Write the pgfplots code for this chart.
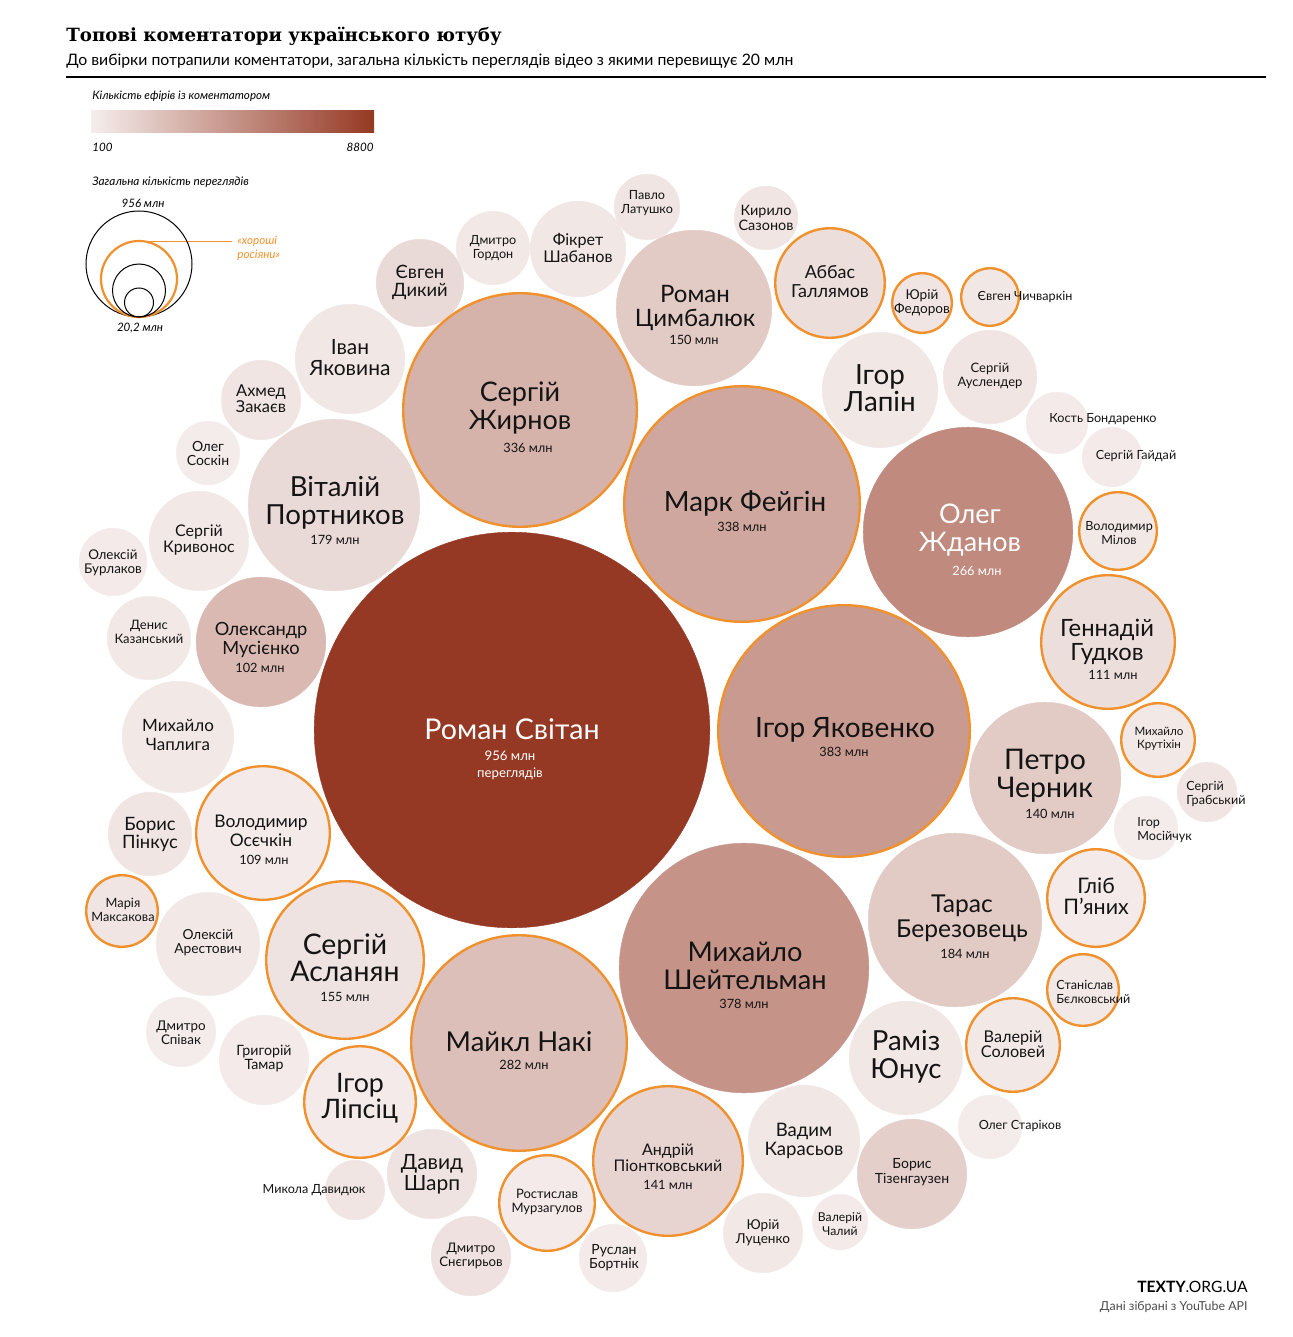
\documentclass[border=0pt]{standalone}
\usepackage{fontspec}
\setmainfont{Lato}
\newfontfamily\titlefont{DejaVu Serif}
\usepackage{pgfplots}
\usepackage{pgfplotstable}
\pgfplotsset{compat=1.18}
\definecolor{orng}{RGB}{240,145,45}
\definecolor{txt}{RGB}{20,20,20}
\definecolor{cA}{RGB}{245,238,237}
\definecolor{cB}{RGB}{149,57,36}
\newcommand\LabB[5]{\node[align=center,inner sep=0pt,text=txt,font=\fontsize{#3}{#4}\selectfont] at (axis cs:#1,#2) {#5};}
\newcommand\LabW[5]{\node[align=center,inner sep=0pt,text=white,font=\fontsize{#3}{#4}\selectfont] at (axis cs:#1,#2) {#5};}
\newcommand\LabL[5]{\node[align=left,anchor=west,inner sep=0pt,text=txt,font=\fontsize{#3}{#4}\selectfont] at (axis cs:#1,#2) {#5};}
\newcommand\LabS[3]{\node[align=center,inner sep=0pt,text=txt,font=\fontsize{6.4}{7}\selectfont] at (axis cs:#1,#2) {#3};}

\newcommand\drawlabels{%
\LabW{512}{729}{14.3}{15}{Роман Світан}
\node[align=center,inner sep=0pt,text=white,font=\fontsize{6.6}{8.5}\selectfont] at (axis cs:510,765) {956 млн\\переглядів};
\LabB{845}{730}{14}{14}{Ігор Яковенко}\LabS{844}{752}{383 млн}
\LabB{745}{966}{13.6}{14}{Михайло\\Шейтельман}\LabS{744}{1004}{378 млн}
\LabB{745}{503}{13.9}{14}{Марк Фейгін}\LabS{742}{527}{338 млн}
\LabB{520}{408}{13.5}{13.6}{Сергій\\Жирнов}\LabS{528}{448}{336 млн}
\LabB{519}{1042}{13.7}{14}{Майкл Накі}\LabS{524}{1065}{282 млн}
\LabW{970}{530}{13.5}{13.6}{Олег\\Жданов}
\node[inner sep=0pt,text=white,font=\fontsize{6.4}{7}\selectfont] at (axis cs:977,571) {266 млн};
\LabB{962}{918}{12.3}{12.5}{Тарас\\Березовець}\LabS{965}{954}{184 млн}
\LabB{335}{503}{13.8}{13.8}{Віталій\\Портников}\LabS{335}{540}{179 млн}
\LabB{345}{958}{14.2}{13.6}{Сергій\\Асланян}\LabS{345}{997}{155 млн}
\LabB{695}{308}{12}{11.8}{Роман\\Цимбалюк}\LabS{694}{340}{150 млн}
\LabB{668}{1158}{8}{8}{Андрій\\Піонтковський}\LabS{668}{1185}{141 млн}
\LabB{1045}{776}{14.2}{14}{Петро\\Черник}\LabS{1050}{814}{140 млн}
\LabB{1107}{642}{11.9}{12}{Геннадій\\Гудков}\LabS{1113}{675}{111 млн}
\LabB{261}{831}{8.7}{9.5}{Володимир\\Осєчкін}\LabS{264}{860}{109 млн}
\LabB{261}{640}{9.1}{9.5}{Олександр\\Мусієнко}\LabS{260}{668}{102 млн}
\LabB{880}{388}{13.9}{13.8}{Ігор\\Лапін}
\LabB{906}{1057}{13.8}{14}{Раміз\\Юнус}
\LabB{360}{1098}{13.4}{13.2}{Ігор\\Ліпсіц}
\LabB{912}{1172}{7}{7.2}{Борис\\Тізенгаузен}
\LabB{350}{358}{10.5}{10.5}{Іван\\Яковина}
\LabB{178}{735}{8.5}{9.2}{Михайло\\Чаплига}
\LabB{804}{1141}{9.3}{9.2}{Вадим\\Карасьов}
\LabB{830}{282}{9}{9.5}{Аббас\\Галлямов}
\LabB{208}{943}{6.9}{7}{Олексій\\Арестович}
\LabB{578}{248}{8.1}{8.2}{Фікрет\\Шабанов}
\LabB{1096}{896}{10.7}{10.5}{Гліб\\П’яних}
\LabB{199}{540}{8}{8.3}{Сергій\\Кривонос}
\LabB{547}{1202}{6.5}{7}{Ростислав\\Мурзагулов}
\LabB{1013}{1044}{8.1}{7.8}{Валерій\\Соловей}
\LabB{990}{376}{6.5}{7}{Сергій\\Ауслендер}
\LabB{432}{1174}{10.5}{10.5}{Давид\\Шарп}
\LabB{471}{1256}{6.6}{7}{Дмитро\\Снєгирьов}
\LabB{763}{1233}{6.8}{7}{Юрій\\Луценко}
\LabB{150}{834}{9.2}{9}{Борис\\Пінкус}
\LabB{149}{632}{6.5}{7}{Денис\\Казанський}
\LabB{261}{399}{8.2}{8}{Ахмед\\Закаєв}
\LabB{264}{1059}{7.1}{7}{Григорій\\Тамар}
\LabB{420}{282}{9.2}{9}{Євген\\Дикий}
\LabB{493}{248}{6.3}{7}{Дмитро\\Гордон}
\LabB{647}{203}{6.3}{7}{Павло\\Латушко}
\LabB{766}{218}{7.2}{7.2}{Кирило\\Сазонов}
\LabB{922}{303}{6.8}{7}{Юрій\\Федоров}
\LabB{1025}{297}{6.3}{7}{Євген Чичваркін}
\LabB{1103}{419}{6.3}{7}{Кость Бондаренко}
\LabB{1136}{456}{6.3}{7}{Сергій Гайдай}
\LabB{1119}{533}{6.3}{6.8}{Володимир\\Мілов}
\LabB{1159}{739}{5.8}{6.5}{Михайло\\Крутіхін}
\LabL{1186}{794}{6.3}{7}{Сергій\\Грабський}
\LabL{1137}{830}{6.3}{7}{Ігор\\Мосійчук}
\LabL{1056}{992}{6.3}{7}{Станіслав\\Бєлковський}
\LabB{1020}{1126}{6.3}{7}{Олег Старіков}
\LabB{840}{1224}{6.1}{7}{Валерій\\Чалий}
\LabB{614}{1258}{7}{7}{Руслан\\Бортнік}
\LabB{314}{1190}{6.3}{7}{Микола Давидюк}
\LabB{181}{1033}{6.7}{7}{Дмитро\\Співак}
\LabB{123}{910}{6.4}{7}{Марія\\Максакова}
\LabB{113}{563}{6.7}{7}{Олексій\\Бурлаков}
\LabB{208}{453}{7}{7}{Олег\\Соскін}
}

\pgfplotstableread{
x y r c
512 730 198 1.0
744 968 125 0.50
968 532 105 0.55
955 920 87 0.20
334 505 86 0.11
694 308 78 0.20
1045 778 76 0.20
261 642 65 0.29
880 390 58 0.04
906 1058 57 0.04
912 1174 55 0.17
350 359 55 0.04
178 737 56 0.03
804 1141 56 0.04
208 944 52 0.03
578 249 48 0.04
199 541 50 0.03
990 377 47 0.05
432 1174 45 0.06
471 1256 40 0.07
763 1233 40 0.03
150 834 42 0.05
149 638 42 0.03
261 400 40 0.05
264 1060 45 0.02
420 283 44 0.11
493 248 37 0.03
647 207 33 0.05
766 218 32 0.05
1057 423 31 0.02
1112 457 30 0.02
1207 792 30 0.05
1146 828 32 0.01
990 1127 32 0.01
840 1222 28 0.02
613 1258 34 0.02
355 1190 30 0.05
181 1032 35 0.01
113 562 34 0.02
208 453 32 0.01
}\plaintab

\pgfplotstableread{
x y r c
844 731 127 0.46
742 504 119 0.39
520 410 118 0.33
519 1043 109 0.26
345 960 80 0.06
668 1161 76 0.14
1108 642 68 0.09
263 833 68 0.02
360 1102 57 0.02
830 283 56 0.09
1096 898 50 0.02
547 1203 49 0.02
1013 1045 48 0.03
922 303 31 0.05
990 297 30 0.04
1118 531 40 0.03
1158 740 38 0.03
1083 990 37 0.03
122 911 37 0.05
}\goodtab

\begin{document}
\begin{tikzpicture}
\begin{axis}[x=0.5pt,y=0.5pt,y dir=reverse,xmin=0,xmax=1292,ymin=0,ymax=1337,
  hide axis,scale only axis,clip=false,
  colormap={br}{rgb255=(245,238,237) rgb255=(149,57,36)},
  point meta min=0,point meta max=1,
  after end axis/.code={\drawlabels}]
\path (axis cs:0,0) (axis cs:1292,1337);

% bubbles
\addplot[scatter,only marks,mark=*,point meta=\thisrow{c},
  scatter/use mapped color={draw=mapped color,fill=mapped color,line width=0.2pt},
  visualization depends on={\thisrow{r}\as\rad},
  scatter/@pre marker code/.append style={/tikz/mark size=0.5*\rad-0.1}]
  table {\plaintab};
\addplot[scatter,only marks,mark=*,point meta=\thisrow{c},
  scatter/use mapped color={draw=orng,fill=mapped color,line width=1.2pt},
  visualization depends on={\thisrow{r}\as\rad},
  scatter/@pre marker code/.append style={/tikz/mark size=0.5*\rad-0.6}]
  table {\goodtab};

% size legend
\addplot[only marks,mark=o,mark size=26.5pt,black,line width=0.5pt] coordinates {(139,264)};
\addplot[only marks,mark=o,mark size=19pt,orng,line width=1.1pt] coordinates {(139,279)};
\addplot[only marks,mark=o,mark size=13.25pt,black,line width=0.5pt] coordinates {(139,290.5)};
\addplot[only marks,mark=o,mark size=7.25pt,black,line width=0.5pt] coordinates {(139,302.5)};
\addplot[orng,line width=0.5pt] coordinates {(139,241) (232,241)};

% header
\node[anchor=base west,inner sep=0pt,font=\titlefont\bfseries\fontsize{9.1}{10}\selectfont] at (axis cs:66,42) {Топові коментатори українського ютубу};
\node[anchor=base west,inner sep=0pt,font=\fontsize{7.9}{8}\selectfont] at (axis cs:66,66) {До вибірки потрапили коментатори, загальна кількість переглядів відео з якими перевищує 20 млн};
\draw[line width=0.6pt] (axis cs:66,77) -- (axis cs:1266,77);

% colour legend
\node[anchor=base west,inner sep=0pt,font=\itshape\fontsize{5.8}{6}\selectfont] at (axis cs:92,100) {Кількість ефірів із коментатором};
\shade[left color=cA,right color=cB] (axis cs:91,111) rectangle (axis cs:374,133);
\node[anchor=base west,inner sep=0pt,font=\itshape\fontsize{5.8}{6}\selectfont] at (axis cs:92,152) {100};
\node[anchor=base east,inner sep=0pt,font=\itshape\fontsize{5.8}{6}\selectfont] at (axis cs:374,152) {8800};
\node[anchor=base west,inner sep=0pt,font=\itshape\fontsize{5.9}{6}\selectfont] at (axis cs:92,186) {Загальна кількість переглядів};
\node[inner sep=0pt,font=\itshape\fontsize{5.8}{6}\selectfont] at (axis cs:143,203) {956 млн};
\node[inner sep=0pt,font=\itshape\fontsize{5.8}{6}\selectfont] at (axis cs:140,328) {20,2 млн};
\node[anchor=north west,align=left,inner sep=0pt,text=orng,font=\itshape\fontsize{5.8}{6.6}\selectfont] at (axis cs:237,236) {«хороші\\росіяни»};

% footer
\node[anchor=base east,inner sep=0pt,font=\fontsize{7.8}{8}\selectfont] at (axis cs:1248,1292) {\textbf{TEXTY}.ORG.UA};
\node[anchor=base east,inner sep=0pt,text=black!70,font=\fontsize{6.2}{7}\selectfont] at (axis cs:1248,1310) {Дані зібрані з YouTube API};
\end{axis}
\end{tikzpicture}
\end{document}
